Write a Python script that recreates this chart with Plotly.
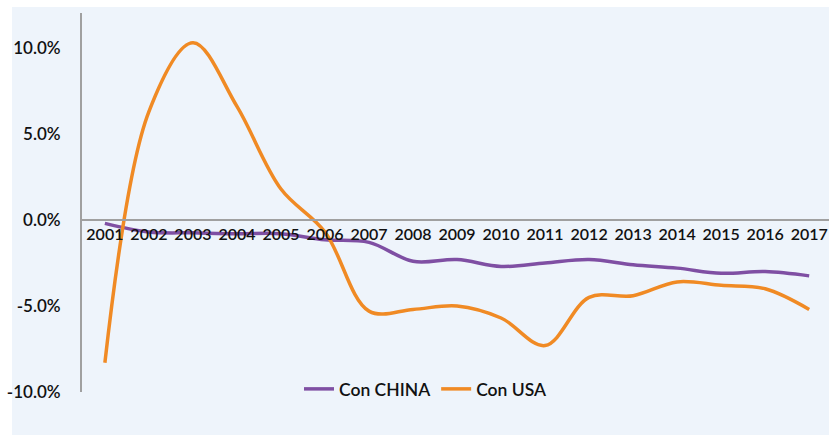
import plotly.graph_objects as go

years = [str(y) for y in range(2001, 2018)]
china = [-0.2, -0.7, -0.75, -0.8, -0.8, -1.15, -1.3, -2.4, -2.3, -2.7, -2.5, -2.3, -2.6, -2.8, -3.1, -3.0, -3.25]
usa = [-8.3, 6.3, 10.3, 6.6, 1.8, -0.7, -5.3, -5.2, -5.0, -5.7, -7.3, -4.5, -4.4, -3.6, -3.8, -4.0, -5.2]
ytick_vals = [-10, -5, 0, 5, 10]
ytick_text = ["-10.0%", "-5.0%", "0.0%", "5.0%", "10.0%"]

FONT = "Lato"
BG = "#EEF4FB"
W, H = 829, 435
L, R, T, B = 82, 0, 13, 43
pw, ph = W - L - R, H - T - B
TF = dict(family=FONT, size=17, color="#111111", weight=600)
XF = dict(family=FONT, size=16, color="#111111", weight=600)
LF = dict(family=FONT, size=17.5, color="#111111", weight=600)

fig = go.Figure()
fig.add_trace(go.Scatter(x=years, y=china, name="Con CHINA", mode="lines",
                         line=dict(color="#7F4FA3", width=3.5, shape="spline", smoothing=1.0)))
fig.add_trace(go.Scatter(x=years, y=usa, name="Con USA", mode="lines",
                         line=dict(color="#F08A24", width=3.5, shape="spline", smoothing=1.0)))

ymin, ymax = -10.0, 12.03
fig.update_layout(
    width=W, height=H,
    margin=dict(l=L, r=R, t=T, b=B, autoexpand=False),
    paper_bgcolor=BG, plot_bgcolor=BG,
    font=TF,
    showlegend=True,
    legend=dict(orientation="h", x=(426 - L) / pw, xanchor="center",
                y=(392 - 389) / ph, yanchor="middle", bgcolor="rgba(0,0,0,0)",
                font=LF, itemwidth=30),
    xaxis=dict(type="category", range=[-0.52, 16.45], anchor="free",
               position=(0 - ymin) / (ymax - ymin), automargin=False,
               showline=True, linecolor="#A0A0A0", linewidth=2,
               showgrid=False, zeroline=False, ticks="", tickangle=0,
               tickfont=XF),
    yaxis=dict(range=[ymin, ymax], tickvals=ytick_vals, ticktext=ytick_text,
               automargin=False,
               showline=True, linecolor="#A0A0A0", linewidth=2,
               showgrid=False, zeroline=False, ticks="", ticklabelstandoff=16,
               tickfont=TF),
    shapes=[
        dict(type="rect", xref="paper", yref="paper", x0=-L / pw - 0.01, x1=-(L - 12) / pw,
             y0=-B / ph - 0.01, y1=1 + T / ph + 0.01, fillcolor="white", line=dict(width=0), layer="below"),
        dict(type="rect", xref="paper", yref="paper", x0=-L / pw - 0.01, x1=1.01,
             y0=1 + (T - 7) / ph, y1=1 + T / ph + 0.01, fillcolor="white", line=dict(width=0), layer="below"),
    ],
)

fig.write_html("out.html", config={"displayModeBar": False},
               post_script="document.body.style.margin='0';document.body.style.overflow='hidden';")
